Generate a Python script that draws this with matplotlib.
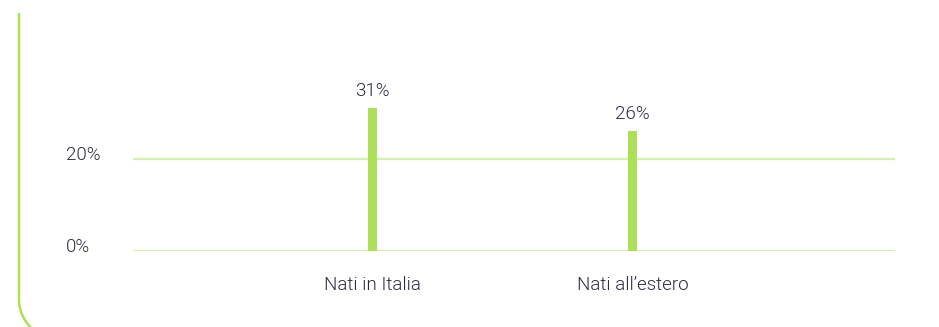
import numpy as np
import matplotlib.pyplot as plt
from matplotlib.lines import Line2D

categories = ['Nati in Italia', 'Nati all\u2019estero']
values = [31, 26]
value_labels = ['31%', '26%']
yticks = [0, 20]
ytick_labels = ['0%', '20%']

bar_color = '#abe058'
grid_color = '#d6f2ae'
text_color = '#2c2c3e'

plt.rcParams['font.family'] = ['Roboto', 'DejaVu Sans']
fs = 13.5
fw = 300

W, H = 939, 327
fig = plt.figure(figsize=(W / 100, H / 100), dpi=100)

# axes box in pixels: left 133, right 895, baseline at y=250.5
ax_left, ax_right, ax_bottom, ax_top = 133, 895, 250.5, 40
ax = fig.add_axes([ax_left / W, (H - ax_bottom) / H,
                   (ax_right - ax_left) / W, (ax_bottom - ax_top) / H])

px_per_pct = 4.6
ax.set_ylim(0, (ax_bottom - ax_top) / px_per_pct)
ax.set_xlim(-0.921, 2.01)

for t in yticks:
    ax.axhline(t, color=grid_color, lw=1.6, zorder=1)

x = np.arange(len(categories))
ax.bar(x, values, width=0.032, color=bar_color, zorder=2)

for xi, v, lab in zip(x, values, value_labels):
    ax.annotate(lab, (xi, v), xytext=(0, 6), textcoords='offset points',
                ha='center', va='bottom', fontsize=fs, fontweight=fw,
                color=text_color)

# category labels below the baseline
for xi, c in zip(x, categories):
    ax.annotate(c, (xi, 0), xytext=(0, -18), textcoords='offset points',
                ha='center', va='top', fontsize=fs, fontweight=fw,
                color=text_color)

# y labels left-aligned at a fixed pixel column
for t, lab in zip(yticks, ytick_labels):
    yfig = (H - ax_bottom) / H + t * px_per_pct / H
    fig.text(66 / W, yfig + 4 / H, lab, ha='left', va='center', fontsize=fs,
             fontweight=fw, color=text_color)

ax.set_xticks([])
ax.set_yticks([])
for s in ax.spines.values():
    s.set_visible(False)

# rounded frame edge on the left
r = 40
cx, cy = 19 + r, H - 28
theta = np.linspace(np.pi, np.pi * 1.3, 30)
arc_x = cx + r * np.cos(theta)
arc_y = cy - r * np.sin(theta)
px = np.concatenate([[19], arc_x])
py = np.concatenate([[13], arc_y])
fig.add_artist(Line2D(px / W, 1 - py / H, transform=fig.transFigure,
                      color='#abe058', lw=1.8, solid_capstyle='butt'))

fig.savefig('out.png', dpi=100)
